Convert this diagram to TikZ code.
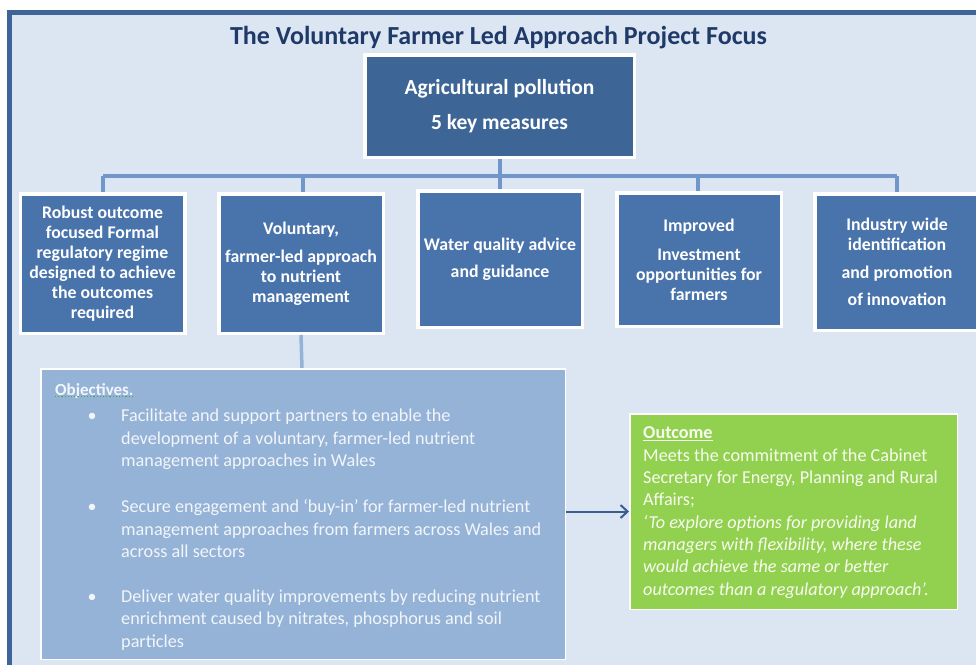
\documentclass[tikz,border=0pt]{standalone}
\usepackage{fontspec}
\setmainfont{Carlito}
\usetikzlibrary{arrows.meta}
\definecolor{pagebg}{HTML}{DCE6F2}
\definecolor{framecol}{HTML}{3F6598}
\definecolor{titlecol}{HTML}{1F3A68}
\definecolor{headbox}{HTML}{3D6697}
\definecolor{measurebox}{HTML}{4873AB}
\definecolor{linkcol}{HTML}{7196CA}
\definecolor{objfill}{HTML}{95B3D7}
\definecolor{outfill}{HTML}{92D050}
\definecolor{arrowcol}{HTML}{3A5E8F}
\definecolor{objtext}{HTML}{F2F5FA}
\definecolor{outtext}{HTML}{F7FBEF}
\definecolor{spellgreen}{HTML}{3DAA3D}

\begin{document}
\begin{tikzpicture}[x=1pt,y=-1pt,
  headnode/.style={draw=white, line width=3.5pt, fill=headbox, text=white,
    font=\bfseries\fontsize{21.5}{24}\selectfont, align=center, inner sep=0pt,
    minimum width=269.5pt, minimum height=102.5pt},
  measure/.style={draw=white, line width=3.5pt, fill=measurebox, text=white,
    font=\bfseries\fontsize{17.8}{20}\selectfont, align=center, inner sep=0pt,
    minimum width=164.5pt},
  link/.style={linkcol, line width=3.5pt},
  sublink/.style={objfill, line width=3.5pt},
  panel/.style={draw=white, line width=1.5pt, inner sep=0pt},
  objpara/.style={anchor=base west, align=left, inner sep=0pt, text=objtext,
    font=\fontsize{18.2}{22.5}\selectfont},
  bulletmark/.style={anchor=base, inner sep=0pt, text=objtext,
    font=\fontsize{18}{22.5}\selectfont},
  leadsto/.style={arrowcol, line width=2pt, -{Straight Barb[length=7pt,width=13pt,line width=2pt]}}
]
\useasboundingbox (0,0) rectangle (976,664);
\fill[white] (0,0) rectangle (976,664);

% outer frame running off the right and bottom edges
\begin{scope}
  \clip (0,0) rectangle (976,664);
  \draw[framecol, line width=4.5pt, fill=pagebg] (9.5,12.5) rectangle (995,690);
\end{scope}

\node[font=\bfseries\fontsize{26}{28}\selectfont, text=titlecol] (title) at (498.5,37.5)
  {The Voluntary Farmer Led Approach Project Focus};

% tree connectors (drawn first so the boxes sit on top)
\coordinate (bus) at (500,176);
\coordinate (busL) at (103,176);
\coordinate (busR) at (897,176);
\draw[link] (500,105) -- (bus);
\draw[link] (busL) -- (busR);
\draw[link] (busL) -- (103,200);
\draw[link] (303,176) -- (303,200);
\draw[link] (500,176) -- (500,200);
\draw[link] (698,176) -- (698,200);
\draw[link] (897,176) -- (897,200);

\node[headnode] (head) at (499.5,106) {Agricultural pollution\\[11pt]5 key measures};

\node[measure, minimum height=139.5pt] (m1) at (102.5,263.5)
  {Robust outcome\\focused Formal\\regulatory regime\\designed to achieve\\the outcomes\\required};
\node[measure, minimum height=139.5pt] (m2) at (301,263.5)
  {Voluntary,\\[8pt]farmer-led approach\\to nutrient\\management};
\node[measure, minimum height=136.5pt] (m3) at (500,259)
  {Water quality advice\\[7pt]and guidance};
\node[measure, minimum height=133.5pt] (m4) at (699,259.5)
  {Improved\\[9pt]Investment\\opportunities for\\farmers};
\node[measure, minimum height=136.5pt] (m5) at (897,262)
  {Industry wide\\identification\\[8pt]and promotion\\[7pt]of innovation};

% objectives panel
\draw[sublink] (m2.south) -- (302,369);
\node[panel, fill=objfill, minimum width=524.5pt, minimum height=290.5pt] (obj) at (303,514) {};

\node[anchor=base west, inner sep=0pt, text=objtext, font=\bfseries\fontsize{17}{20}\selectfont] (objhead) at (55,395) {Objectives.};
\draw[spellgreen, line width=1.2pt, dotted] ([yshift=1.5pt]objhead.south west) -- ([yshift=1.5pt]objhead.south east);

% multi-line paragraphs are placed by the baseline of their last line
\node[bulletmark] (b1) at (92,421.5) {\textbullet};
\node[objpara] (o1) at (121,466.5)
  {Facilitate and support partners to enable the\\development of a voluntary, farmer-led nutrient\\management approaches in Wales};
\node[bulletmark] (b2) at (92,512.5) {\textbullet};
\node[objpara] (o2) at (121,557.5)
  {Secure engagement and ‘buy-in’ for farmer-led nutrient\\management approaches from farmers across Wales and\\across all sectors};
\node[bulletmark] (b3) at (92,602) {\textbullet};
\node[objpara] (o3) at (121,647)
  {Deliver water quality improvements by reducing nutrient\\enrichment caused by nitrates, phosphorus and soil\\particles};

% outcome panel
\node[panel, fill=outfill, minimum width=327.5pt, minimum height=195.5pt] (out) at (793.5,511.5) {};
\node[anchor=base west, align=left, inner sep=0pt, text=outtext,
      font=\fontsize{18.2}{22.3}\selectfont] (outtxt) at (643,595)
  {\textbf{\underline{Outcome}}\\
   Meets the commitment of the Cabinet\\
   Secretary for Energy, Planning and Rural\\
   Affairs;\\
   \textit{‘To explore options for providing land}\\
   \textit{managers with flexibility, where these}\\
   \textit{would achieve the same or better}\\
   \textit{outcomes than a regulatory approach’.}};

\draw[leadsto] (obj.east |- out.west) -- (out.west);
\end{tikzpicture}
\end{document}
